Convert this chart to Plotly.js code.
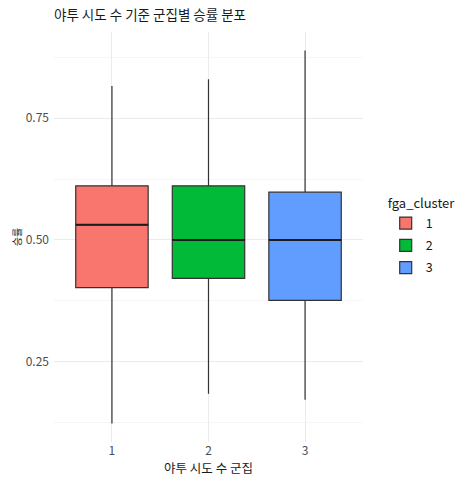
<!DOCTYPE html>
<html>
<head>
<meta charset="utf-8">
<script src="https://cdn.plot.ly/plotly-3.0.1.min.js"></script>
<style>
  html, body { margin: 0; padding: 0; background: #fff; }
  #chart { width: 469px; height: 486px; }
</style>
</head>
<body>
<div id="chart"></div>
<script>
// values (win rate by FGA cluster)
var clusters = ['1', '2', '3'];
var clusterX = [1, 2, 3];
var lowerFence = [0.123, 0.184, 0.172];
var q1 = [0.402, 0.421, 0.376];
var median = [0.531, 0.500, 0.500];
var q3 = [0.611, 0.611, 0.598];
var upperFence = [0.816, 0.830, 0.889];
var fillColors = ['#F8766D', '#00BA38', '#619CFF'];

var FONT = 'Noto Sans CJK KR, Noto Sans, sans-serif';
var BOX_W = 0.75;

function makeBox(i) {
  return {
    type: 'box',
    name: clusters[i],
    legendgroup: 'c' + clusters[i],
    x: [clusterX[i]],
    q1: [q1[i]],
    median: [median[i]],
    q3: [q3[i]],
    lowerfence: [lowerFence[i]],
    upperfence: [upperFence[i]],
    width: BOX_W,
    whiskerwidth: 0,
    fillcolor: fillColors[i],
    line: { color: '#333333', width: 1.2 },
    boxpoints: false,
    hoverinfo: 'skip'
  };
}

// ggplot draws the median thicker than the box outline
function makeMedian(i) {
  return {
    type: 'scatter',
    mode: 'lines',
    x: [clusterX[i] - BOX_W / 2, clusterX[i] + BOX_W / 2],
    y: [median[i], median[i]],
    line: { color: '#1a1a1a', width: 2 },
    showlegend: false,
    hoverinfo: 'skip'
  };
}

var traces = [];
for (var i = 0; i < clusters.length; i++) {
  traces.push(makeBox(i));
}
for (var i = 0; i < clusters.length; i++) {
  traces.push(makeMedian(i));
}

var layout = {
  width: 469,
  height: 486,
  paper_bgcolor: '#ffffff',
  plot_bgcolor: '#ffffff',
  font: { family: FONT, color: '#4d4d4d' },
  margin: { l: 54, r: 105, t: 32, b: 44, pad: 0 },
  boxmode: 'overlay',
  title: {
    text: '야투 시도 수 기준 군집별 승률 분포',
    font: { family: FONT, size: 13.5, color: '#1a1a1a' },
    x: 0, xref: 'paper', xanchor: 'left',
    y: 1, yref: 'container', yanchor: 'top', pad: { t: 11 }
  },
  xaxis: {
    range: [0.4, 3.6],
    tickvals: clusterX,
    ticktext: clusters,
    showgrid: true,
    gridcolor: '#ebebeb',
    gridwidth: 1,
    zeroline: false,
    showline: false,
    ticks: '',
    tickfont: { size: 12, color: '#4d4d4d' },
    title: { text: '야투 시도 수 군집', font: { family: FONT, size: 12.5, color: '#1a1a1a' }, standoff: 5 }
  },
  yaxis: {
    range: [0.085, 0.927],
    tick0: 0,
    dtick: 0.25,
    tickformat: '.2f',
    showgrid: true,
    gridcolor: '#ebebeb',
    gridwidth: 1,
    minor: { tick0: 0, dtick: 0.125, showgrid: true, gridcolor: '#f4f4f4', gridwidth: 0.8 },
    zeroline: false,
    showline: false,
    ticks: '',
    ticklabelstandoff: 4,
    tickfont: { size: 12, color: '#4d4d4d' },
    title: { text: '승률', font: { family: FONT, size: 10, color: '#1a1a1a' }, standoff: 2 }
  },
  showlegend: true,
  legend: {
    x: 1.07, xanchor: 'left',
    y: 0.5, yanchor: 'middle',
    title: { text: 'fga_cluster', font: { family: FONT, size: 13, color: '#1a1a1a' } },
    font: { family: FONT, size: 12.5, color: '#1a1a1a' },
    bgcolor: 'rgba(0,0,0,0)',
    tracegroupgap: 3
  }
};

Plotly.newPlot('chart', traces, layout, { staticPlot: true, displayModeBar: false });
</script>
</body>
</html>
